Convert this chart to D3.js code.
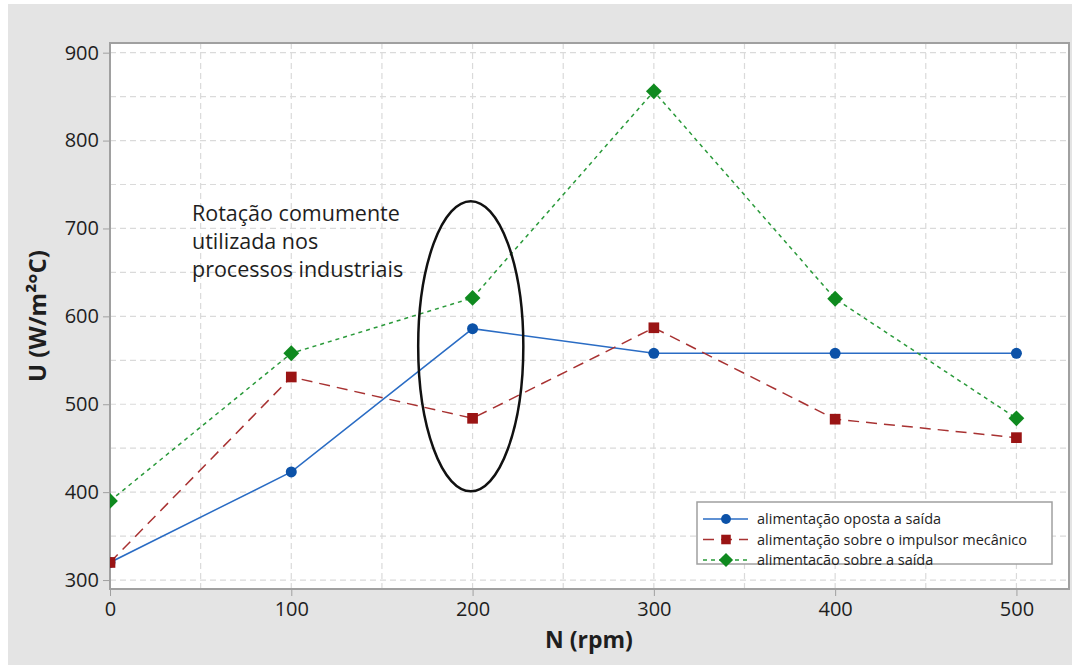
<!DOCTYPE html>
<html>
<head>
<meta charset="utf-8">
<script src="https://cdn.jsdelivr.net/npm/d3@7"></script>
<style>
  body { margin: 0; background: #fff; }
  text { font-family: "Open Sans", "Noto Sans", sans-serif; }
</style>
</head>
<body>
<svg width="1072" height="665"></svg>
<script>
// rotation speeds (rpm)
var rpm = [0, 100, 200, 300, 400, 500];
// U values (W/m2 C) per feed position
var oposta = [320, 423, 586, 558, 558, 558];
var impulsor = [320, 531, 484, 587, 483, 462];
var saida = [390, 558, 621, 856, 620, 484];
var seriesNames = ['alimentação oposta a saída', 'alimentação sobre o impulsor mecânico', 'alimentacão sobre a saída'];
var xTicks = [0, 100, 200, 300, 400, 500];
var yTicks = [300, 400, 500, 600, 700, 800, 900];
var gridX = [0, 50, 100, 150, 200, 250, 300, 350, 400, 450, 500];
var gridY = [300, 350, 400, 450, 500, 550, 600, 650, 700, 750, 800, 850, 900];
var noteLines = ['Rotação comumente', 'utilizada nos', 'processos industriais'];
// highlighted region around 200 rpm: center x, center y, half width, half height
var ring = [199, 566, 29, 165];

var svg = d3.select('svg');
var pL = 110, pT = 43, pR = 1069, pB = 589;

svg.append('rect').attr('x', 8).attr('y', 4).attr('width', 1064).attr('height', 661).style('fill', '#e4e4e4');
svg.append('rect').attr('x', pL).attr('y', pT).attr('width', pR - pL).attr('height', pB - pT).style('fill', '#fff');

var x = d3.scaleLinear().domain([0, 529]).range([pL, pR]);
var y = d3.scaleLinear().domain([289.8, 911]).range([pB, pT]);

svg.append('defs').append('clipPath').attr('id', 'clip')
  .append('rect').attr('x', pL).attr('y', pT).attr('width', pR - pL).attr('height', pB - pT);

// grid
svg.append('g').selectAll('line').data(gridX).enter().append('line')
  .attr('x1', function(d){return x(d);}).attr('x2', function(d){return x(d);})
  .attr('y1', pT).attr('y2', pB)
  .style('stroke', '#dadada').style('stroke-width', 1.2).style('stroke-dasharray', '6,4');
svg.append('g').selectAll('line').data(gridY).enter().append('line')
  .attr('y1', function(d){return y(d);}).attr('y2', function(d){return y(d);})
  .attr('x1', pL).attr('x2', pR)
  .style('stroke', '#dadada').style('stroke-width', 1.2).style('stroke-dasharray', '6,4');

// axes
var xAxis = svg.append('g').attr('transform', 'translate(0,' + pB + ')')
  .call(d3.axisBottom(x).tickValues(xTicks).tickSize(7).tickPadding(6));
var yAxis = svg.append('g').attr('transform', 'translate(' + pL + ',0)')
  .call(d3.axisLeft(y).tickValues(yTicks).tickSize(7).tickPadding(4));
[xAxis, yAxis].forEach(function(a) {
  a.select('.domain').remove();
  a.selectAll('line').style('stroke', '#a0a0a0');
  a.selectAll('text').style('font-size', '20px').style('fill', '#1e1e1e').style('font-family', '"Open Sans", sans-serif');
});

// frame
svg.append('rect').attr('x', pL).attr('y', pT).attr('width', pR - pL).attr('height', pB - pT)
  .style('fill', 'none').style('stroke', '#a0a0a0').style('stroke-width', 2);

// series
var series = [
  {name: seriesNames[0], values: oposta, line: '#2a6cc4', mark: '#0c52a8', dash: null, shape: d3.symbolCircle, size: 95, rot: 0},
  {name: seriesNames[1], values: impulsor, line: '#a83232', mark: '#9a1414', dash: '11,7', shape: d3.symbolSquare, size: 114, rot: 0},
  {name: seriesNames[2], values: saida, line: '#2a9a3a', mark: '#0f8a1f', dash: '4,4', shape: d3.symbolSquare, size: 125, rot: 45}
];

var plot = svg.append('g').attr('clip-path', 'url(#clip)');
var line = d3.line().x(function(d){return x(d[0]);}).y(function(d){return y(d[1]);});

series.forEach(function(s) {
  var pts = rpm.map(function(r, i){return [r, s.values[i]];});
  plot.append('path').datum(pts).attr('d', line)
    .style('fill', 'none').style('stroke', s.line).style('stroke-width', 1.5)
    .style('stroke-dasharray', s.dash);
  plot.selectAll(null).data(pts).enter().append('path')
    .attr('d', d3.symbol().type(s.shape).size(s.size))
    .attr('transform', function(d){return 'translate(' + x(d[0]) + ',' + y(d[1]) + ') rotate(' + s.rot + ')';})
    .style('fill', s.mark);
});

// ellipse
svg.append('ellipse')
  .attr('cx', x(ring[0])).attr('cy', y(ring[1]))
  .attr('rx', x(ring[2]) - x(0)).attr('ry', y(ring[1] - ring[3]) - y(ring[1]))
  .style('fill', 'none').style('stroke', '#111').style('stroke-width', 2.5);

// annotation
svg.append('g').selectAll('text').data(noteLines).enter().append('text')
  .attr('x', 192).attr('y', function(d, i){return 221 + i * 28;})
  .style('font-size', '21.5px').style('fill', '#1e1e1e')
  .text(function(d){return d;});

// axis titles
svg.append('text').attr('x', 589).attr('y', 648).attr('text-anchor', 'middle')
  .style('font-size', '23px').style('font-weight', 'bold').style('fill', '#1e1e1e').text('N (rpm)');
svg.append('text').attr('transform', 'translate(46,316) rotate(-90)').attr('text-anchor', 'middle')
  .style('font-size', '24px').style('font-weight', 'bold').style('fill', '#1e1e1e').text('U (W/m²°C)');

// legend
var lg = svg.append('g').attr('transform', 'translate(697,502)');
lg.append('rect').attr('width', 355).attr('height', 62)
  .style('fill', '#fff').style('stroke', '#a0a0a0').style('stroke-width', 1.5);
series.forEach(function(s, i) {
  var row = lg.append('g').attr('transform', 'translate(0,' + (17 + i * 20.5) + ')');
  row.append('line').attr('x1', 6).attr('x2', 51)
    .style('stroke', s.line).style('stroke-width', 1.5).style('stroke-dasharray', s.dash);
  row.append('path').attr('d', d3.symbol().type(s.shape).size(s.size * 0.8))
    .attr('transform', 'translate(29,0) rotate(' + s.rot + ')').style('fill', s.mark);
  row.append('text').attr('x', 60).attr('y', 5)
    .style('font-size', '14.5px').style('fill', '#1e1e1e').text(s.name);
});
</script>
</body>
</html>
